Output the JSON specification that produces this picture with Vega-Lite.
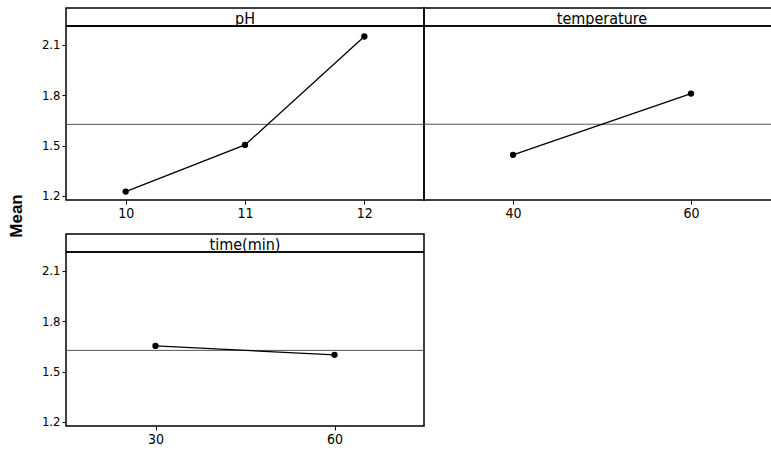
{
  "$schema": "https://vega.github.io/schema/vega-lite/v6.json",
  "padding": {"left": 7, "top": 7, "right": 0, "bottom": 0},
  "background": "white",
  "title": {"text": "Mean", "orient": "left", "anchor": "middle", "font": "Liberation Sans", "fontSize": 17, "fontWeight": "bold", "color": "black", "offset": 15, "dx": 11},
  "datasets": {
    "effects": [
      {"factor": "pH", "level": 10, "mean": 1.226},
      {"factor": "pH", "level": 11, "mean": 1.504},
      {"factor": "pH", "level": 12, "mean": 2.15},
      {"factor": "temperature", "level": 40, "mean": 1.445},
      {"factor": "temperature", "level": 60, "mean": 1.81},
      {"factor": "time(min)", "level": 30, "mean": 1.653},
      {"factor": "time(min)", "level": 60, "mean": 1.6}
    ]
  },
  "config": {
    "view": {"stroke": "black", "strokeWidth": 1.5},
    "axis": {"labelFont": "DejaVu Sans Condensed", "labelFontSize": 13, "labelColor": "black", "tickColor": "black", "tickSize": 4, "labelPadding": 2, "domain": false, "grid": false},
    "axisX": {"labelFontSize": 14},
    "text": {"font": "DejaVu Sans Condensed", "fontSize": 16, "color": "black"}
  },
  "vconcat": [
    {
      "hconcat": [
        {
          "width": 358, "height": 192,
          "data": {"name": "effects"},
          "transform": [{"filter": "datum.factor === 'pH'"}],
          "layer": [
            {"mark": {"type": "rule", "color": "#555555", "strokeWidth": 1},
             "encoding": {"y": {"aggregate": "mean", "field": "mean", "type": "quantitative", "title": null, "scale": {"domain": [1.176, 2.32], "nice": false, "zero": false}, "axis": {"values": [1.2, 1.5, 1.8, 2.1], "format": ".1f", "title": null}}}},
            {"mark": {"type": "rule", "color": "black", "strokeWidth": 1.5},
             "encoding": {"y": {"datum": 2.213, "type": "quantitative", "title": null}}},
            {"transform": [{"aggregate": [{"op": "count", "as": "n"}], "groupby": ["factor"]}],
             "mark": {"type": "text", "baseline": "middle", "align": "center"},
             "encoding": {"x": {"datum": 11, "type": "quantitative", "title": null}, "y": {"datum": 2.255, "type": "quantitative", "title": null}, "text": {"field": "factor"}}},
            {"mark": {"type": "line", "color": "black", "strokeWidth": 1.3},
             "encoding": {"x": {"field": "level", "type": "quantitative", "title": null, "scale": {"domain": [9.5, 12.5], "nice": false, "zero": false}, "axis": {"values": [10, 11, 12], "format": "d", "title": null}}, "y": {"field": "mean", "type": "quantitative", "title": null}}},
            {"mark": {"type": "point", "filled": true, "color": "black", "opacity": 1, "size": 40},
             "encoding": {"x": {"field": "level", "type": "quantitative", "title": null}, "y": {"field": "mean", "type": "quantitative", "title": null}}}
          ]
        },
        {
          "width": 356, "height": 192,
          "data": {"name": "effects"},
          "transform": [{"filter": "datum.factor === 'temperature'"}],
          "layer": [
            {"mark": {"type": "rule", "color": "#555555", "strokeWidth": 1},
             "encoding": {"y": {"aggregate": "mean", "field": "mean", "type": "quantitative", "scale": {"domain": [1.176, 2.32], "nice": false, "zero": false}, "axis": null}}},
            {"mark": {"type": "rule", "color": "black", "strokeWidth": 1.5},
             "encoding": {"y": {"datum": 2.213, "type": "quantitative", "axis": null}}},
            {"transform": [{"aggregate": [{"op": "count", "as": "n"}], "groupby": ["factor"]}],
             "mark": {"type": "text", "baseline": "middle", "align": "center"},
             "encoding": {"x": {"datum": 50, "type": "quantitative", "title": null}, "y": {"datum": 2.255, "type": "quantitative", "axis": null}, "text": {"field": "factor"}}},
            {"mark": {"type": "line", "color": "black", "strokeWidth": 1.3},
             "encoding": {"x": {"field": "level", "type": "quantitative", "title": null, "scale": {"domain": [30, 70], "nice": false, "zero": false}, "axis": {"values": [40, 60], "format": "d", "title": null}}, "y": {"field": "mean", "type": "quantitative", "axis": null}}},
            {"mark": {"type": "point", "filled": true, "color": "black", "opacity": 1, "size": 40},
             "encoding": {"x": {"field": "level", "type": "quantitative", "title": null}, "y": {"field": "mean", "type": "quantitative", "axis": null}}}
          ]
        }
      ],
      "spacing": 0,
      "bounds": "flush"
    },
    {
      "width": 358, "height": 192,
      "data": {"name": "effects"},
      "transform": [{"filter": "datum.factor === 'time(min)'"}],
      "layer": [
        {"mark": {"type": "rule", "color": "#555555", "strokeWidth": 1},
         "encoding": {"y": {"aggregate": "mean", "field": "mean", "type": "quantitative", "title": null, "scale": {"domain": [1.176, 2.32], "nice": false, "zero": false}, "axis": {"values": [1.2, 1.5, 1.8, 2.1], "format": ".1f", "title": null}}}},
        {"mark": {"type": "rule", "color": "black", "strokeWidth": 1.5},
         "encoding": {"y": {"datum": 2.213, "type": "quantitative", "title": null}}},
        {"transform": [{"aggregate": [{"op": "count", "as": "n"}], "groupby": ["factor"]}],
         "mark": {"type": "text", "baseline": "middle", "align": "center"},
         "encoding": {"x": {"datum": 45, "type": "quantitative", "title": null}, "y": {"datum": 2.255, "type": "quantitative", "title": null}, "text": {"field": "factor"}}},
        {"mark": {"type": "line", "color": "black", "strokeWidth": 1.3},
         "encoding": {"x": {"field": "level", "type": "quantitative", "title": null, "scale": {"domain": [15, 75], "nice": false, "zero": false}, "axis": {"values": [30, 60], "format": "d", "title": null}}, "y": {"field": "mean", "type": "quantitative", "title": null}}},
        {"mark": {"type": "point", "filled": true, "color": "black", "opacity": 1, "size": 40},
         "encoding": {"x": {"field": "level", "type": "quantitative", "title": null}, "y": {"field": "mean", "type": "quantitative", "title": null}}}
      ]
    }
  ],
  "spacing": 12
}
